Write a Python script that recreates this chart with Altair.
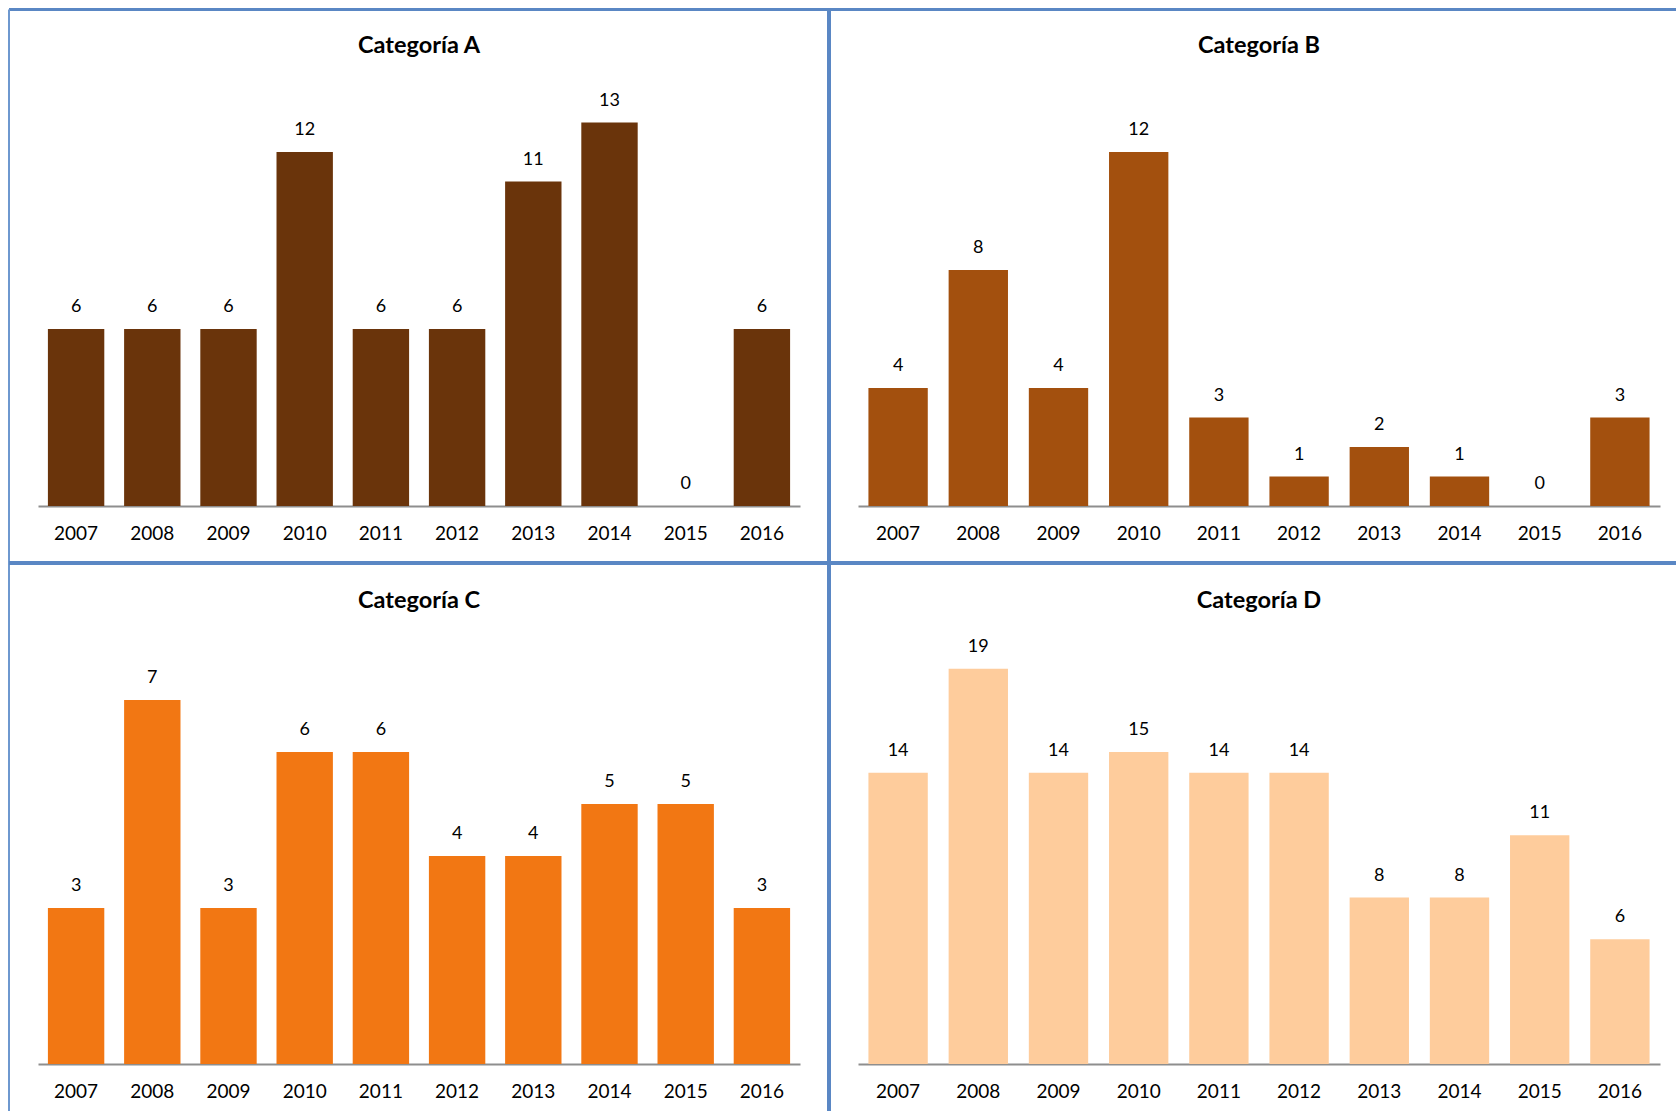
import altair as alt
import pandas as pd

years = ["2007", "2008", "2009", "2010", "2011", "2012", "2013", "2014", "2015", "2016"]
cat_a = [6, 6, 6, 12, 6, 6, 11, 13, 0, 6]
cat_b = [4, 8, 4, 12, 3, 1, 2, 1, 0, 3]
cat_c = [3, 7, 3, 6, 6, 4, 4, 5, 5, 3]
cat_d = [14, 19, 14, 15, 14, 14, 8, 8, 11, 6]
titles = ["Categoría A", "Categoría B", "Categoría C", "Categoría D"]
colors = ["#6a340b", "#a3500e", "#f27713", "#fecc9c"]
ymax = [14, 14, 8, 20]

FONT = "Lato"
BORDER = "#5a87c4"


def panel(vals, title, color, top, w, h):
    df = pd.DataFrame({"year": years, "value": vals})
    base = alt.Chart(df)
    x = alt.X(
        "year:N",
        sort=years,
        scale=alt.Scale(paddingInner=0.26, paddingOuter=0.13),
        axis=alt.Axis(
            title=None, labelAngle=0, ticks=False, tickSize=0,
            domainColor="#8e8e8e", domainWidth=2,
            labelPadding=33, labelBaseline="alphabetic",
            labelFont=FONT, labelFontSize=19, labelColor="#000000", grid=False,
        ),
    )
    y = alt.Y("value:Q", scale=alt.Scale(domain=[0, top], nice=False, zero=True), axis=None)
    bars = base.mark_bar(color=color).encode(x=x, y=y)
    labels = base.mark_text(
        dy=-17, baseline="alphabetic", font=FONT, fontSize=18, color="#000000"
    ).encode(x=alt.X("year:N", sort=years), y=y, text="value:Q")
    head = alt.Chart(pd.DataFrame({"t": [title]})).mark_text(
        font=FONT, fontSize=23.5, fontWeight="bold", baseline="alphabetic",
        align="center", color="#000000",
    ).encode(x=alt.value(w / 2), y=alt.value(-40), text="t:N")
    return alt.layer(bars, labels, head).properties(width=w, height=h)


one = pd.DataFrame({"k": [0]})
# panel borders (drawn in panel A's frame)
top_line = alt.Chart(one).mark_rule(color=BORDER, strokeWidth=3).encode(
    x=alt.value(-29), x2=alt.value(1638), y=alt.value(-83.5))
left_line = alt.Chart(one).mark_rule(color="#6e98cf", strokeWidth=2).encode(
    x=alt.value(-29), y=alt.value(-83.5), y2=alt.value(1018))
mid_v = alt.Chart(one).mark_rule(color=BORDER, strokeWidth=4).encode(
    x=alt.value(791), y=alt.value(-83.5), y2=alt.value(1018))
mid_h = alt.Chart(one).mark_rule(color=BORDER, strokeWidth=4).encode(
    x=alt.value(-29), x2=alt.value(1638), y=alt.value(470))

pa = panel(cat_a, titles[0], colors[0], ymax[0], 762, 413)
pa = alt.layer(*pa.layer, top_line, left_line, mid_v, mid_h).properties(width=762, height=413)
pb = panel(cat_b, titles[1], colors[1], ymax[1], 802, 413)
pc = panel(cat_c, titles[2], colors[2], ymax[2], 762, 416)
pdd = panel(cat_d, titles[3], colors[3], ymax[3], 802, 416)

chart = alt.concat(
    pa, pb, pc, pdd, columns=2,
    spacing={"row": 142, "column": 58}, bounds="flush", align="each",
).properties(
    padding={"left": 7, "top": 7, "right": 0, "bottom": 0},
    background="#ffffff",
).configure_view(stroke=None)

chart.save("out.html", embed_options={"renderer": "svg", "actions": False})
